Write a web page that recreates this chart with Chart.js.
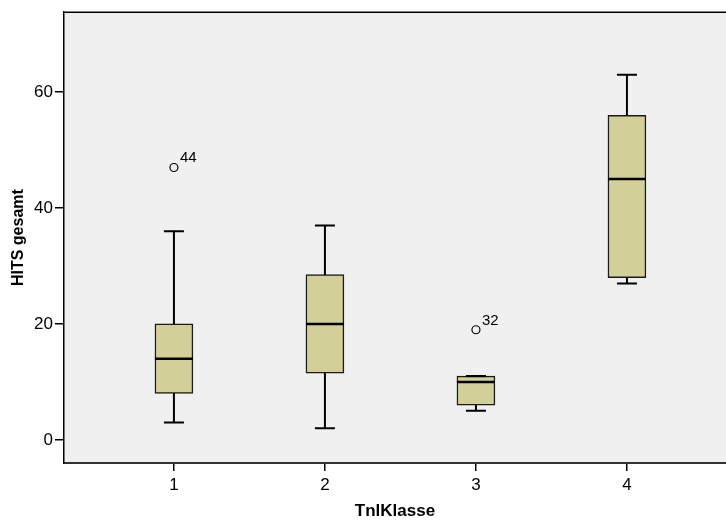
<!DOCTYPE html>
<html>
<head>
<meta charset="utf-8">
<script src="https://cdn.jsdelivr.net/npm/chart.js@4/dist/chart.umd.min.js"></script>
<style>
html,body{margin:0;padding:0;background:#fff;}
#wrap{width:726px;height:522px;position:relative;}
</style>
</head>
<body>
<div id="wrap"><canvas id="c" width="726" height="522"></canvas></div>
<script>
// Data
const categories   = [1, 2, 3, 4];
const whiskerLow   = [3, 2, 5, 27];
const q1           = [8, 11.5, 6, 28];
const median       = [14, 20, 10, 45];
const q3           = [20, 28.5, 11, 56];
const whiskerHigh  = [36, 37, 11, 63];
const outlierCat   = [1, 3];
const outlierVal   = [47, 19];
const outlierLabel = ['44', '32'];
const yTicks       = [0, 20, 40, 60];

const FONT = "'Liberation Sans', Arial, sans-serif";

const boxPlugin = {
  id: 'boxExtras',
  beforeDraw(chart) {
    const {ctx, chartArea: a} = chart;
    ctx.save();
    ctx.fillStyle = '#f0f0f0';
    ctx.fillRect(a.left, a.top, a.right - a.left, a.bottom - a.top);
    ctx.restore();
  },
  beforeDatasetsDraw(chart) {
    const {ctx, scales: {x, y}} = chart;
    ctx.save();
    ctx.strokeStyle = '#000';
    ctx.lineWidth = 2;
    categories.forEach((c, i) => {
      const px = x.getPixelForValue(c);
      const lo = y.getPixelForValue(whiskerLow[i]);
      const hi = y.getPixelForValue(whiskerHigh[i]);
      ctx.beginPath();
      ctx.moveTo(px, lo); ctx.lineTo(px, hi);
      ctx.moveTo(px - 10, lo); ctx.lineTo(px + 10, lo);
      ctx.moveTo(px - 10, hi); ctx.lineTo(px + 10, hi);
      ctx.stroke();
    });
    ctx.restore();
  },
  afterDatasetsDraw(chart) {
    const {ctx, scales: {x, y}, chartArea: a} = chart;
    ctx.save();
    ctx.strokeStyle = '#000';
    ctx.lineWidth = 2.5;
    categories.forEach((c, i) => {
      const px = x.getPixelForValue(c);
      const m = y.getPixelForValue(median[i]);
      ctx.beginPath();
      ctx.moveTo(px - 19, m); ctx.lineTo(px + 19, m);
      ctx.stroke();
    });
    ctx.lineWidth = 2;
    categories.forEach((c, i) => {
      if (whiskerHigh[i] === q3[i]) {
        const px = x.getPixelForValue(c);
        const hi = y.getPixelForValue(whiskerHigh[i]);
        ctx.beginPath();
        ctx.moveTo(px - 10, hi); ctx.lineTo(px + 10, hi);
        ctx.stroke();
      }
    });
    ctx.fillStyle = '#000';
    ctx.font = '15px ' + FONT;
    ctx.textAlign = 'left';
    ctx.textBaseline = 'alphabetic';
    outlierCat.forEach((c, i) => {
      const px = x.getPixelForValue(c);
      const py = y.getPixelForValue(outlierVal[i]);
      ctx.fillText(outlierLabel[i], px + 6, py - 5);
    });
    ctx.strokeStyle = '#000';
    ctx.lineWidth = 1.5;
    ctx.beginPath();
    ctx.moveTo(a.left, a.top); ctx.lineTo(a.right, a.top);
    ctx.stroke();
    ctx.restore();
  }
};

new Chart(document.getElementById('c'), {
  type: 'bar',
  data: {
    datasets: [
      {
        type: 'bar',
        data: categories.map((c, i) => ({x: c, y: [q1[i], q3[i]]})),
        backgroundColor: 'rgb(211,207,153)',
        borderColor: '#1a1a1a',
        borderWidth: 1.5,
        borderSkipped: false,
        barThickness: 38,
        grouped: false
      },
      {
        type: 'scatter',
        data: outlierCat.map((c, i) => ({x: c, y: outlierVal[i]})),
        pointStyle: 'circle',
        pointRadius: 4,
        backgroundColor: 'rgba(0,0,0,0)',
        borderColor: '#000',
        borderWidth: 1.2
      }
    ]
  },
  options: {
    responsive: false,
    animation: false,
    devicePixelRatio: 1,
    layout: {autoPadding: false, padding: {top: 9.5, right: 0, left: 0, bottom: 0}},
    plugins: {legend: {display: false}, tooltip: {enabled: false}},
    scales: {
      x: {
        type: 'linear',
        offset: false,
        min: 0.272,
        max: 4.656,
        afterBuildTicks: s => { s.ticks = categories.map(v => ({value: v})); },
        afterFit: s => { s.height = 59; s.paddingRight = 0; s.paddingLeft = 0; },
        grid: {display: true, offset: false, drawOnChartArea: false, drawTicks: true, tickLength: 8, color: '#000', lineWidth: 1.5},
        border: {display: true, color: '#333', width: 2},
        ticks: {color: '#000', font: {family: FONT, size: 17}, padding: 4, maxRotation: 0},
        title: {display: true, text: 'TnlKlasse', color: '#000', font: {family: FONT, size: 17, weight: 'bold'}, padding: {top: 3, bottom: 0}}
      },
      y: {
        type: 'linear',
        min: -4,
        max: 73.8,
        afterBuildTicks: s => { s.ticks = yTicks.map(v => ({value: v})); },
        afterFit: s => { s.width = 64; },
        grid: {display: true, drawOnChartArea: false, drawTicks: true, tickLength: 9, color: '#000', lineWidth: 1.5},
        border: {display: true, color: '#000', width: 1.5},
        ticks: {color: '#000', font: {family: FONT, size: 17}, padding: 2},
        title: {display: true, text: 'HITS gesamt', color: '#000', font: {family: FONT, size: 16, weight: 'bold'}, padding: {top: 9, bottom: 0}}
      }
    }
  },
  plugins: [boxPlugin]
});
</script>
</body>
</html>
